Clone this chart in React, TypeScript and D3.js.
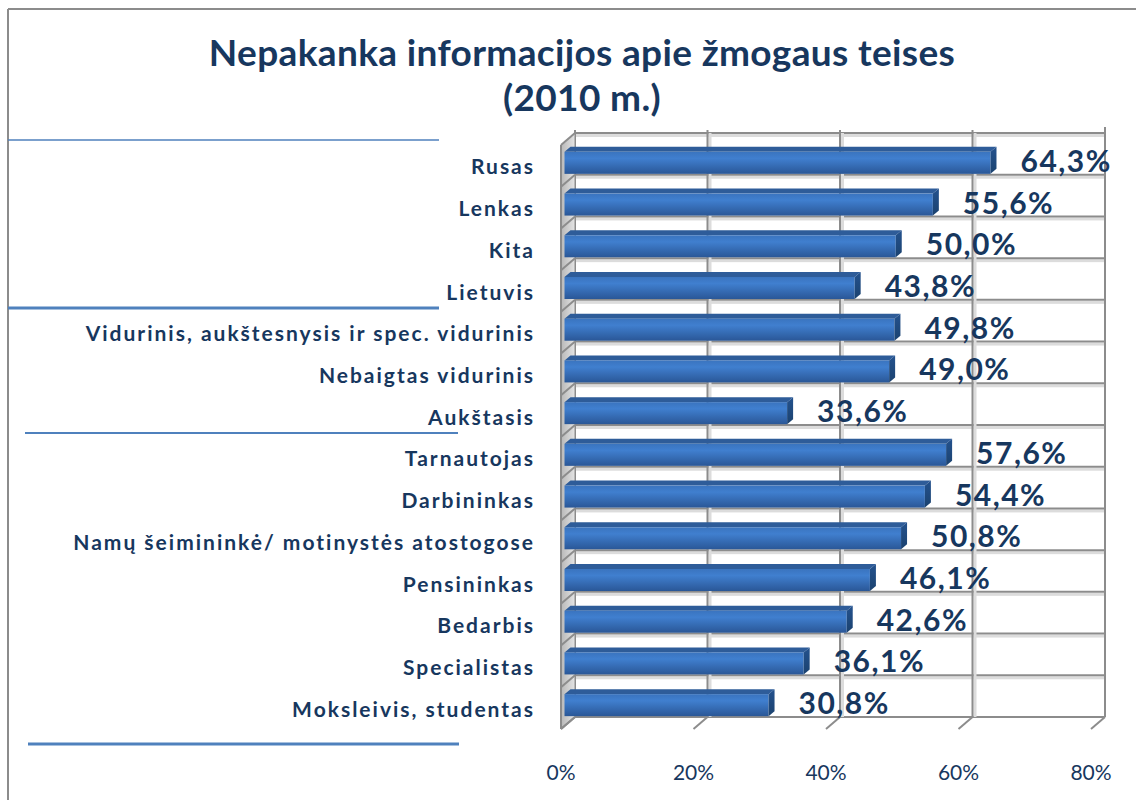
import React from "react";
import * as d3 from "d3";

const categories = [
  "Rusas",
  "Lenkas",
  "Kita",
  "Lietuvis",
  "Vidurinis, aukštesnysis ir spec. vidurinis",
  "Nebaigtas vidurinis",
  "Aukštasis",
  "Tarnautojas",
  "Darbininkas",
  "Namų šeimininkė/ motinystės atostogose",
  "Pensininkas",
  "Bedarbis",
  "Specialistas",
  "Moksleivis, studentas",
];
const values = [64.3, 55.6, 50.0, 43.8, 49.8, 49.0, 33.6, 57.6, 54.4, 50.8, 46.1, 42.6, 36.1, 30.8];
const ticks = [0, 20, 40, 60, 80];
const titleLines = ["Nepakanka informacijos apie žmogaus teises", "(2010 m.)"];
const separators = [
  { y: 140, x1: 8, x2: 439, w: 1.3 },
  { y: 308, x1: 8, x2: 439, w: 3 },
  { y: 433, x1: 25, x2: 458, w: 2 },
  { y: 744, x1: 28, x2: 459, w: 3 },
];

const W = 1136;
const H = 800;
const BX0 = 575;
const BX1 = 1105;
const BY0 = 133;
const BY1 = 717;
const DX = -14;
const DY = 12;
const TEXT = "#17375e";
const GRID = "#8c8c8c";
const FONT = "Lato, 'Noto Sans', sans-serif";

export default function App() {
  const x = d3.scaleLinear().domain([0, 80]).range([BX0, BX1]);
  const y = d3.scaleBand<string>().domain(categories).range([BY0, BY1]).padding(0);
  const bw = y.bandwidth();
  const f = 0.75;
  const barX0 = x(0) + DX * f;
  const barOffY = DY * f;
  const faceH = 22;
  const sdx = 6;
  const sdy = -5;

  const boundaries = d3.range(categories.length + 1).map((k) => BY0 + k * bw);

  return (
    <svg width={W} height={H} style={{ position: "absolute", left: 0, top: 0, background: "#fff" }}>
      <defs>
        <linearGradient id="front" x1="0" y1="0" x2="0" y2="1">
          <stop offset="0" stopColor="#3a74bf" />
          <stop offset="0.3" stopColor="#407fcf" />
          <stop offset="1" stopColor="#2a5797" />
        </linearGradient>
        <linearGradient id="side" x1="0" y1="0" x2="0" y2="1">
          <stop offset="0" stopColor="#24528e" />
          <stop offset="1" stopColor="#1b426f" />
        </linearGradient>
        <linearGradient id="wall" x1="0" y1="0" x2="1" y2="0">
          <stop offset="0" stopColor="#b8b8b8" />
          <stop offset="1" stopColor="#e4e4e4" />
        </linearGradient>
      </defs>

      {/* outer border */}
      <line x1={8} y1={9} x2={W} y2={9} stroke={GRID} strokeWidth={2} />
      <line x1={8} y1={9} x2={8} y2={H} stroke={GRID} strokeWidth={2} />

      {/* title */}
      {titleLines.map((t, i) => (
        <text
          key={i}
          x={582}
          y={66 + i * 45}
          textAnchor="middle"
          fontFamily={FONT}
          fontWeight={700}
          fontSize={37}
          letterSpacing={0.35}
          fill={TEXT}
        >
          {t}
        </text>
      ))}

      {/* separators */}
      {separators.map((s, i) => (
        <line key={i} x1={s.x1} x2={s.x2} y1={s.y} y2={s.y} stroke="#4f81bd" strokeWidth={s.w} />
      ))}

      {/* back wall gridlines - horizontal */}
      {boundaries.map((by, k) => (
        <g key={"h" + k}>
          {k < categories.length && <rect x={BX0} y={by + 1} width={BX1 - BX0} height={3} fill="#dcdcdc" />}
          <line x1={BX0} x2={BX1} y1={by} y2={by} stroke={GRID} strokeWidth={2} />
        </g>
      ))}
      {/* vertical gridlines */}
      {ticks.map((t) => (
        <g key={"v" + t}>
          {t > 0 && t < 80 && <rect x={x(t) + 1} y={BY0} width={3} height={BY1 - BY0} fill="#dcdcdc" />}
          <line x1={x(t)} x2={x(t)} y1={t === 80 ? BY0 - 6 : BY0 - 3} y2={BY1} stroke={GRID} strokeWidth={2} />
        </g>
      ))}

      {/* left wall */}
      <polygon
        points={`${BX0},${BY0} ${BX0},${BY1} ${BX0 + DX},${BY1 + DY} ${BX0 + DX},${BY0 + DY}`}
        fill="url(#wall)"
        stroke={GRID}
        strokeWidth={1}
      />
      {boundaries.map((by, k) => (
        <line key={"d" + k} x1={BX0} y1={by} x2={BX0 + DX} y2={by + DY} stroke={GRID} strokeWidth={2} />
      ))}
      <line x1={BX0 + DX} x2={BX0 + DX} y1={BY0 + DY} y2={BY1 + DY} stroke={GRID} strokeWidth={2} />

      {/* bottom ticks */}
      {ticks.map((t) => (
        <line key={"t" + t} x1={x(t)} y1={BY1} x2={x(t) + DX} y2={BY1 + DY} stroke={GRID} strokeWidth={2} />
      ))}

      {/* bars */}
      {categories.map((c, i) => {
        const cy = (y(c) as number) + bw / 2 + barOffY;
        const top = cy - faceH / 2;
        const bot = cy + faceH / 2;
        const xe = barX0 + (x(values[i]) - x(0));
        return (
          <g key={c}>
            <polygon
              points={`${barX0},${top} ${barX0 + sdx},${top + sdy} ${xe + sdx},${top + sdy} ${xe},${top}`}
              fill="#2e5c99"
            />
            <rect x={barX0} y={top} width={xe - barX0} height={faceH} fill="url(#front)" />
            <polygon
              points={`${xe},${top} ${xe + sdx},${top + sdy} ${xe + sdx},${bot + sdy} ${xe},${bot}`}
              fill="url(#side)"
            />
            <text
              x={xe + sdx + 24}
              y={cy - 3}
              dominantBaseline="central"
              fontFamily={FONT}
              fontWeight={700}
              fontSize={30}
              letterSpacing={1.5}
              fill={TEXT}
            >
              {d3.format(".1f")(values[i]).replace(".", ",") + "%"}
            </text>
          </g>
        );
      })}

      {/* category labels */}
      {categories.map((c) => (
        <text
          key={"l" + c}
          x={535}
          y={(y(c) as number) + bw / 2 + DY}
          textAnchor="end"
          dominantBaseline="central"
          fontFamily={FONT}
          fontWeight={700}
          fontSize={21}
          letterSpacing={2}
          fill={TEXT}
        >
          {c}
        </text>
      ))}

      {/* tick labels */}
      {ticks.map((t) => (
        <text
          key={"tl" + t}
          x={x(t) + DX}
          y={771}
          textAnchor="middle"
          dominantBaseline="central"
          fontFamily={FONT}
          fontSize={21}
          fill={TEXT}
        >
          {t + "%"}
        </text>
      ))}
    </svg>
  );
}
